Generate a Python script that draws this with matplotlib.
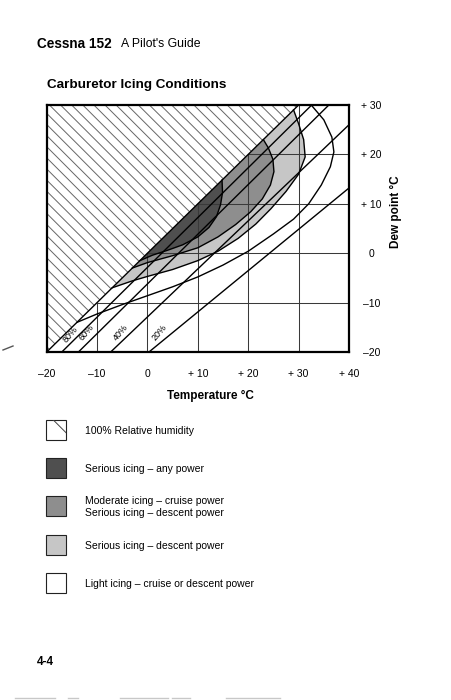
import numpy as np
import matplotlib
matplotlib.use("Agg")
import matplotlib.pyplot as plt
from matplotlib.patches import Polygon, Rectangle

plt.rcParams['font.family'] = ['Liberation Sans', 'DejaVu Sans']
plt.rcParams['hatch.linewidth'] = 0.7

# -----------------------------
# Data (temperature / dew point, deg C)
# -----------------------------
temp_ticks = [-20, -10, 0, 10, 20, 30, 40]
temp_labels = ['\u201320', '\u201310', '0', '+ 10', '+ 20', '+ 30', '+ 40']
dew_ticks = [-20, -10, 0, 10, 20, 30]
dew_labels = ['\u201320', '\u201310', '0', '+ 10', '+ 20', '+ 30']

# relative humidity lines: start / end points
rh_labels = ['100%', '80%', '60%', '40%', '20%']
rh_temp = [[-20, 30], [-17, 32.6], [-13.7, 36], [-7.3, 40], [0.3, 40]]
rh_dew = [[-20, 30], [-20, 30], [-20, 30], [-20, 26], [-20, 13.2]]

# icing envelopes
dark_t = [-1.5, 1, 4, 7, 10, 12.2, 13.7, 14.5, 14.9, 14.8]
dark_d = [-1.5, -0.4, 0.6, 1.7, 3.3, 5.2, 7.4, 9.8, 12.3, 14.8]

medium_t = [-3, 0, 5, 10, 14, 17.5, 20.5, 22.8, 24.4, 25.1, 24.9, 24, 23]
medium_d = [-3, -1.9, -0.5, 1.1, 3.3, 5.8, 8.4, 11, 13.8, 16.5, 19, 21.3, 23]

light_t = [-7, -3, 0, 5, 10, 14, 18, 21.5, 24.5, 27.5, 30, 31.3, 31, 30, 29]
light_d = [-7, -5.6, -4.7, -3.3, -1.5, 0.4, 3.0, 5.9, 9, 12.5, 16, 19.5, 23, 26.2, 29]

outer_t = [-14, -10, -5, 0, 5, 10, 15, 20, 25, 29, 32, 34.5, 36.3, 37, 36.6, 35, 32.5]
outer_d = [-14, -12.3, -10.4, -8.6, -6.8, -4.8, -2.4, 0.4, 3.9, 6.9, 10, 13.8, 17.5, 20.5, 23.5, 27, 30]

legend_text = [
    '100% Relative humidity',
    'Serious icing \u2013 any power',
    'Moderate icing \u2013 cruise power\nSerious icing \u2013 descent power',
    'Serious icing \u2013 descent power',
    'Light icing \u2013 cruise or descent power',
]

DARK = '#4f4f4f'
MEDIUM = '#8e8e8e'
LIGHT = '#c6c6c6'

# -----------------------------
# Page
# -----------------------------
W, H = 452, 700
fig = plt.figure(figsize=(W / 100, H / 100), dpi=100)
fig.patch.set_facecolor('white')

page = fig.add_axes([0, 0, 1, 1])
page.set_xlim(0, W)
page.set_ylim(H, 0)
page.axis('off')
page.patch.set_alpha(0)

page.text(37, 44, 'Cessna 152', fontsize=9.8, fontweight='bold', va='center')
page.text(121, 44, "A Pilot's Guide", fontsize=8.8, va='center')
page.text(47, 85, 'Carburetor Icing Conditions', fontsize=9.7, fontweight='bold', va='center')
page.text(210, 396, 'Temperature \u00b0C', fontsize=8.5, fontweight='bold', ha='center', va='center')
page.text(396, 212, 'Dew point \u00b0C', fontsize=8.5, fontweight='bold', ha='center', va='center',
          rotation=90)
page.text(37, 662, '4-4', fontsize=8.5, fontweight='bold', va='center')

# legend swatches
sw_y = [430, 468, 506, 545, 583]
sw_face = ['white', DARK, MEDIUM, LIGHT, 'white']
for i in range(5):
    page.add_patch(Rectangle((46, sw_y[i] - 10), 20, 20, facecolor=sw_face[i],
                             edgecolor='#222222', lw=0.8))
    page.text(85, sw_y[i] + 1, legend_text[i], fontsize=7.5, va='center', linespacing=1.25)
page.add_patch(Rectangle((46, sw_y[0] - 10), 20, 20, facecolor='none',
                         edgecolor='#444444', lw=0, hatch='\\'))

# scan artefacts
page.plot([3, 13], [350, 346], color='#555555', lw=1)
for x0, x1 in [(15, 55), (68, 78), (120, 168), (172, 190), (226, 280)]:
    page.plot([x0, x1], [698, 698], color='#c8c8c8', lw=1.0)

# -----------------------------
# Chart
# -----------------------------
ax = fig.add_axes([46.7 / W, (H - 352) / H, (349 - 46.7) / W, (352 - 105) / H])
ax.set_xlim(-20, 40)
ax.set_ylim(-20, 30)

# 100% humidity (impossible) region
ax.add_patch(Polygon([[-20, -20], [30, 30], [-20, 30]], closed=True, facecolor='none',
                     edgecolor='#666666', lw=0, hatch='\\\\\\', zorder=1))

# shaded icing zones (closed along the 100% line)
ax.fill(light_t, light_d, color=LIGHT, lw=0, zorder=1)
ax.fill(medium_t, medium_d, color=MEDIUM, lw=0, zorder=1)
ax.fill(dark_t, dark_d, color=DARK, lw=0, zorder=1)

# grid, only below the saturation line
for t in temp_ticks[1:-1]:
    ax.plot([t, t], [-20, min(t, 30)], color='#3a3a3a', lw=0.75, zorder=2)
for d in dew_ticks[1:-1]:
    ax.plot([d, 40], [d, d], color='#3a3a3a', lw=0.75, zorder=2)

# relative humidity lines
for i in range(len(rh_labels)):
    ax.plot(rh_temp[i], rh_dew[i], color='black', lw=1.0, zorder=3)

# envelope curves
for t, d in [(dark_t, dark_d), (medium_t, medium_d), (light_t, light_d), (outer_t, outer_d)]:
    ax.plot(t, d, color='black', lw=1.0, zorder=3, solid_joinstyle='round')

# humidity labels
label_pos = [(-15.3, -16.4), (-12.2, -16.1), (-5.3, -16.1), (2.3, -16.1)]
for lab, (x, y) in zip(rh_labels[1:], label_pos):
    ax.text(x, y, lab, fontsize=6.5, rotation=50, ha='center', va='center', zorder=4)

ax.set_xticks(temp_ticks)
ax.set_xticklabels(temp_labels, fontsize=7.5)
ax.yaxis.tick_right()
ax.set_yticks(dew_ticks)
ax.set_yticklabels(dew_labels, fontsize=7.5, ha='center')
ax.tick_params(axis='x', length=0, pad=12)
ax.tick_params(axis='y', length=0, pad=16)
for s in ax.spines.values():
    s.set_linewidth(1.6)
    s.set_zorder(5)

fig.savefig('out.png', dpi=100, facecolor='white')
